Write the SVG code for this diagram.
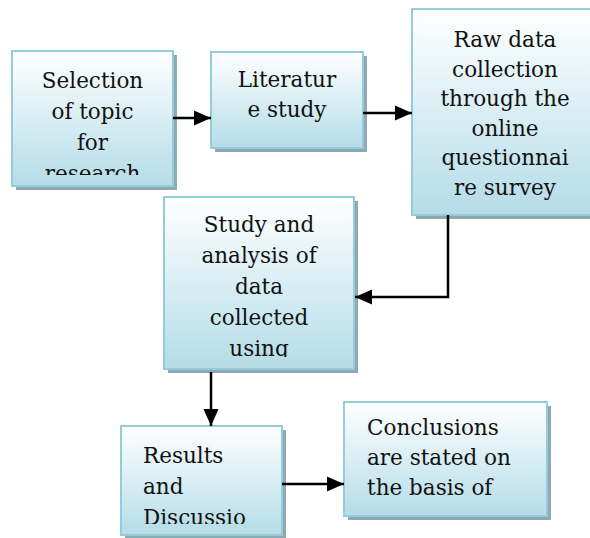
<svg xmlns="http://www.w3.org/2000/svg" width="590" height="538" viewBox="0 0 590 538">
<style>
.box{fill:url(#g);stroke:#93cddd;stroke-width:2}
.sh{fill:#8fa9b2}
text{font-family:"DejaVu Serif","Liberation Serif",serif;font-size:21.5px;fill:#111}
.c{text-anchor:middle}
.ln{fill:none;stroke:#000;stroke-width:2.5}
</style>
<defs>
<linearGradient id="g" x1="0" y1="0" x2="0" y2="1">
<stop offset="0" stop-color="#ffffff"/>
<stop offset="0.5" stop-color="#d9eef4"/>
<stop offset="1" stop-color="#b5dce7"/>
</linearGradient>
<marker id="ah" markerUnits="userSpaceOnUse" markerWidth="17" markerHeight="16" viewBox="0 0 17 16" refX="17" refY="8" orient="auto">
<path d="M0,0.5 L17,8 L0,15.5 Z" fill="#000"/>
</marker>
<clipPath id="c1"><rect x="12" y="51" width="161" height="124"/></clipPath>
<clipPath id="c4"><rect x="164" y="197" width="190" height="160"/></clipPath>
<clipPath id="c5"><rect x="121" y="426" width="161" height="98"/></clipPath>
</defs>
<g id="n1">
<rect class="sh" x="16" y="55" width="161" height="135"/>
<rect class="box" x="12" y="51" width="161" height="135"/>
<g clip-path="url(#c1)">
<text class="c" x="92.5" y="88">Selection</text>
<text class="c" x="92.5" y="119">of topic</text>
<text class="c" x="92.5" y="150">for</text>
<text class="c" x="92.5" y="181">research</text>
</g>
</g>
<g id="n2">
<rect class="sh" x="215" y="56" width="152" height="96"/>
<rect class="box" x="211" y="52" width="152" height="96"/>
<text class="c" x="287" y="87">Literatur</text>
<text class="c" x="287" y="117">e study</text>
</g>
<g id="n3">
<rect class="sh" x="416" y="13" width="190" height="206"/>
<rect class="box" x="412" y="9" width="190" height="206"/>
<text class="c" x="505" y="47">Raw data</text>
<text class="c" x="505" y="77">collection</text>
<text class="c" x="505" y="106">through the</text>
<text class="c" x="505" y="136">online</text>
<text class="c" x="505" y="165">questionnai</text>
<text class="c" x="505" y="195">re survey</text>
</g>
<g id="n4">
<rect class="sh" x="168" y="201" width="190" height="172"/>
<rect class="box" x="164" y="197" width="190" height="172"/>
<g clip-path="url(#c4)">
<text class="c" x="259" y="232">Study and</text>
<text class="c" x="259" y="263">analysis of</text>
<text class="c" x="259" y="294">data</text>
<text class="c" x="259" y="325">collected</text>
<text class="c" x="259" y="356">using</text>
</g>
</g>
<g id="n5">
<rect class="sh" x="125" y="430" width="161" height="109"/>
<rect class="box" x="121" y="426" width="161" height="109"/>
<g clip-path="url(#c5)">
<text x="143" y="463">Results</text>
<text x="143" y="494">and</text>
<text x="143" y="525">Discussio</text>
</g>
</g>
<g id="n6">
<rect class="sh" x="348" y="406" width="203" height="114"/>
<rect class="box" x="344" y="402" width="203" height="114"/>
<text x="367" y="435">Conclusions</text>
<text x="367" y="465">are stated on</text>
<text x="367" y="495">the basis of</text>
</g>
<g id="connectors">
<line class="ln" x1="173" y1="118" x2="211" y2="118" marker-end="url(#ah)"/>
<line class="ln" x1="363" y1="113" x2="412" y2="113" marker-end="url(#ah)"/>
<polyline class="ln" points="448,215 448,297 355,297" marker-end="url(#ah)"/>
<line class="ln" x1="211" y1="372" x2="211" y2="426" marker-end="url(#ah)"/>
<line class="ln" x1="282" y1="484" x2="344" y2="484" marker-end="url(#ah)"/>
</g>
</svg>
